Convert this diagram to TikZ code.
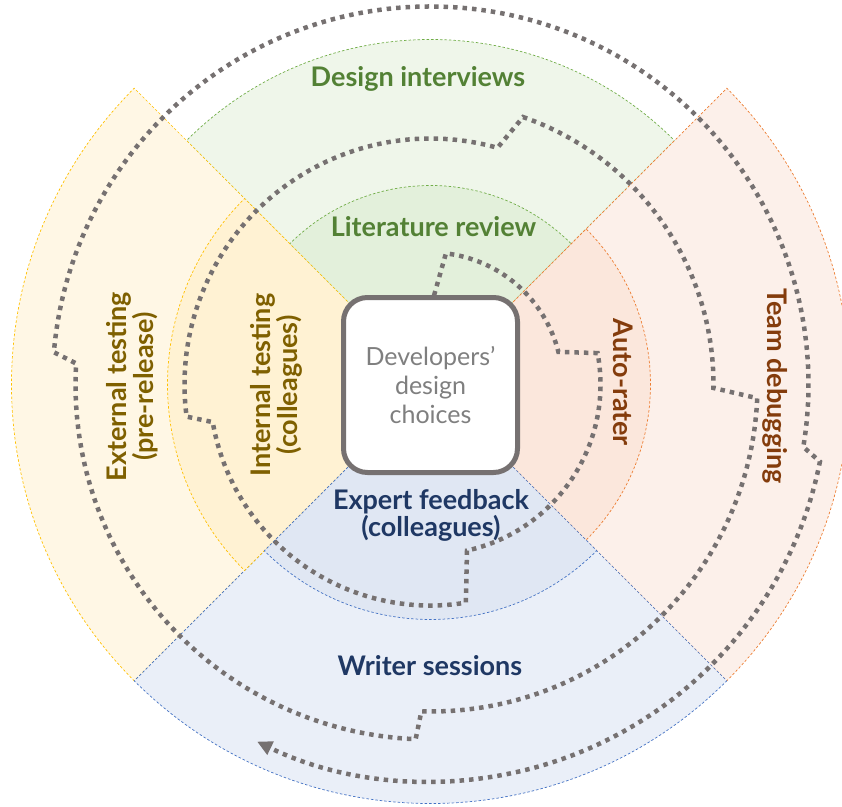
\documentclass[tikz,border=0pt]{standalone}
\usepackage{fontspec}
\setmainfont{Lato}
\usepackage{tikz}
\usetikzlibrary{arrows.meta}
\definecolor{green_pale}{HTML}{EFF6EA}
\definecolor{green_soft}{HTML}{E3F0DB}
\definecolor{green_line}{HTML}{70AD47}
\definecolor{green_text}{HTML}{538135}
\definecolor{gold_pale}{HTML}{FFF7E5}
\definecolor{gold_soft}{HTML}{FFF2D3}
\definecolor{gold_line}{HTML}{FFC000}
\definecolor{gold_text}{HTML}{7F6000}
\definecolor{orange_pale}{HTML}{FCF0EA}
\definecolor{orange_soft}{HTML}{FBE7DC}
\definecolor{orange_line}{HTML}{ED7D31}
\definecolor{orange_text}{HTML}{843C0C}
\definecolor{blue_pale}{HTML}{EAEFF8}
\definecolor{blue_soft}{HTML}{E0E7F3}
\definecolor{blue_line}{HTML}{4472C4}
\definecolor{blue_text}{HTML}{1F3864}
\definecolor{spiral_grey}{HTML}{767171}
\definecolor{box_text}{HTML}{7F7F7F}

\begin{document}
\begin{tikzpicture}[x=1pt,y=1pt,>={Triangle[length=15pt,width=14pt]},
    sector/.style={line width=0.7pt, dash pattern=on 2.5pt off 2pt},
    sectortext/.style={font=\bfseries\fontsize{27}{24}\selectfont, align=center},
    spiral/.style={line width=4.5pt, dash pattern=on 4.5pt off 5pt, draw=spiral_grey}]

    \useasboundingbox (-430.5,-421.5) rectangle (411.5,384.5);
    \clip (-430.5,-421.5) rectangle (411.5,384.5);

    % Centre de la figure
    \coordinate (O) at (0,0);

    % Secteurs extérieurs
    \draw[sector, draw=green_line, fill=green_pale] (O) -- (135:345) arc[start angle=135, end angle=45, radius=345pt] -- cycle;
    \draw[sector, draw=gold_line, fill=gold_pale] (O) -- (225:419) arc[start angle=225, end angle=135, radius=419pt] -- cycle;
    \draw[sector, draw=orange_line, fill=orange_pale] (O) -- (45:419) arc[start angle=45, end angle=-45, radius=419pt] -- cycle;
    \draw[sector, draw=blue_line, fill=blue_pale] (O) -- (-45:419) arc[start angle=-45, end angle=-135, radius=419pt] -- cycle;

    % Secteurs intérieurs
    \draw[sector, draw=green_line, fill=green_soft] (O) -- (135:199) arc[start angle=135, end angle=45, radius=199pt] -- cycle;
    \draw[sector, draw=gold_line, fill=gold_soft] (O) -- (225:263) arc[start angle=225, end angle=135, radius=263pt] -- cycle;
    \draw[sector, draw=orange_line, fill=orange_soft] (O) -- (45:220) arc[start angle=45, end angle=-45, radius=220pt] -- cycle;
    \draw[sector, draw=blue_line, fill=blue_soft] (O) -- (-45:235) arc[start angle=-45, end angle=-135, radius=235pt] -- cycle;

    % La spirale en pointillés
    \draw[spiral,->] (1,80) -- (83.3:132) arc[start angle=83.3, end angle=14.3, radius=132pt]
        -- (10.65:170) arc[start angle=10.65, end angle=-77.6, radius=170pt]
        -- (-80.8:221) arc[start angle=-80.8, end angle=-170.2, radius=221pt]
        -- (-172.5:246) arc[start angle=-172.5, end angle=-285.8, radius=246pt]
        -- (70.9:283) arc[start angle=70.9, end angle=-0.7, radius=283pt]
        -- (-2.4:327) arc[start angle=-2.4, end angle=-91.6, radius=327pt]
        -- (-92.4:355) arc[start angle=-92.4, end angle=-183.4, radius=355pt]
        -- (175.1:378) arc[start angle=175.1, end angle=-9.5, radius=378pt]
        -- (-11.2:397) arc[start angle=-11.2, end angle=-115.9, radius=397pt];

    % Boîte centrale
    \node[draw=spiral_grey, line width=5pt, fill=white, rounded corners=24pt,
        minimum width=174pt, minimum height=175pt, text=box_text, align=center,
        font=\fontsize{25}{29}\selectfont] (choices) at (0,-0.5) {Developers’\\design\\choices};

    % Les étiquettes
    \node[sectortext, text=green_text, anchor=base] (interviews) at (-12.5,297.5) {Design interviews};
    \node[sectortext, text=green_text, anchor=base] (literature) at (3,148.5) {Literature review};
    \node[sectortext, text=blue_text] (expert) at (0.5,-131) {Expert feedback\\(colleagues)};
    \node[sectortext, text=blue_text, anchor=base] (writer) at (-0.5,-290.5) {Writer sessions};
    \node[sectortext, text=gold_text, rotate=90] (external) at (-298.5,-2) {External testing\\(pre-release)};
    \node[sectortext, text=gold_text, rotate=90] (internal) at (-154.5,-0.5) {Internal testing\\(colleagues)};
    \node[sectortext, text=orange_text, rotate=-90] (autorater) at (192.5,2) {Auto-rater};
    \node[sectortext, text=orange_text, rotate=-90] (debugging) at (345,-1.5) {Team debugging};
\end{tikzpicture}
\end{document}
